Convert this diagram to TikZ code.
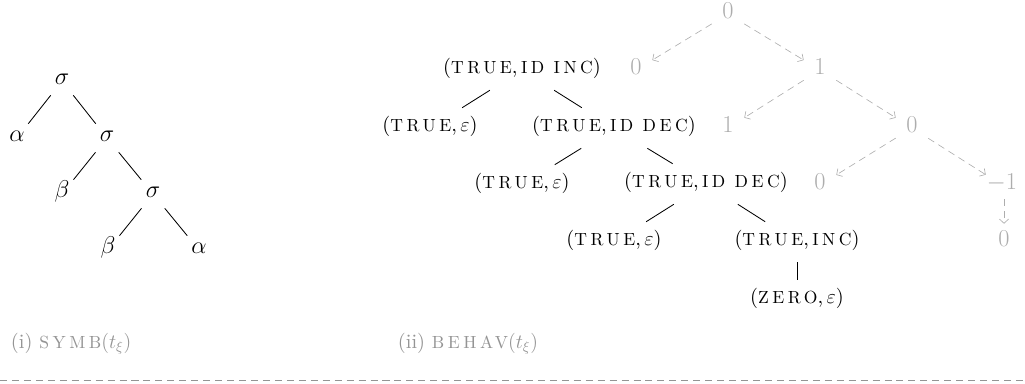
\documentclass[tikz,border=0pt]{standalone}
\usepackage{fontspec}
\usetikzlibrary{arrows.meta}
\setmainfont{lmroman10-regular.otf}[ItalicFont=lmroman10-italic.otf, BoldFont=lmroman10-bold.otf]
% letter-spaced capitals for the operation names
\newfontfamily\opfont{lmroman10-regular.otf}[LetterSpace=20]
\newcommand\op[1]{{\opfont\fontsize{12.5}{14}\selectfont #1}}
\definecolor{cntgrey}{gray}{0.68}
\definecolor{labgrey}{gray}{0.58}
\begin{document}
\begin{tikzpicture}[x=0.025cm,y=-0.025cm,
  every node/.style={font=\fontsize{14.5}{17}\selectfont},
  sym/.style={font=\fontsize{17.5}{20}\selectfont, minimum size=0.7cm, inner sep=0pt, text height=0.43em, text depth=0pt},
  pair/.style={minimum height=1cm, inner ysep=0pt, inner xsep=2pt, text height=0.75em, text depth=0.25em},
  cnt/.style={font=\fontsize{16}{19}\selectfont, text=cntgrey, minimum height=0.5cm, minimum width=0.8cm, inner sep=0pt, text height=0.65em, text depth=0pt},
  branch/.style={line width=0.6pt},
  flow/.style={draw=cntgrey, line width=0.45pt, dash pattern=on 5pt off 3.5pt, -{Straight Barb[length=3pt,width=6.5pt]}},
  caption/.style={anchor=base west, text=labgrey}]
\useasboundingbox (0,0) rectangle (1025,383);

% (i) the symbolic tree
\node[sym] (s1) at (62,81)  {$\sigma$};
\node[sym] (a1) at (17,138) {$\alpha$};
\node[sym] (s2) at (107,138) {$\sigma$};
\node[sym] (b1) at (62,194) {$\beta$};
\node[sym] (s3) at (153,194) {$\sigma$};
\node[sym] (b2) at (108,250) {$\beta$};
\node[sym] (a2) at (199,250) {$\alpha$};
\draw[branch] (s1) -- (a1);
\draw[branch] (s1) -- (s2);
\draw[branch] (s2) -- (b1);
\draw[branch] (s2) -- (s3);
\draw[branch] (s3) -- (b2);
\draw[branch] (s3) -- (a2);

% (ii) the behaviour tree
\node[pair] (p1) at (522,70)  {(\op{TRUE},\,\op{ID INC})};
\node[pair] (p2) at (430,128) {(\op{TRUE},\,$\varepsilon$)};
\node[pair] (p3) at (614,128) {(\op{TRUE},\,\op{ID DEC})};
\node[pair] (p4) at (522,185) {(\op{TRUE},\,$\varepsilon$)};
\node[pair] (p5) at (706,184) {(\op{TRUE},\,\op{ID DEC})};
\node[pair] (p6) at (614,242) {(\op{TRUE},\,$\varepsilon$)};
\node[pair] (p7) at (797,242) {(\op{TRUE},\,\op{INC})};
\node[pair] (p8) at (797,300) {(\op{ZERO},\,$\varepsilon$)};
\draw[branch] (p1) -- (p2);
\draw[branch] (p1) -- (p3);
\draw[branch] (p3) -- (p4);
\draw[branch] (p3) -- (p5);
\draw[branch] (p5) -- (p6);
\draw[branch] (p5) -- (p7);
\draw[branch] (p7) -- (p8);

% counter values
\node[cnt] (c0) at (728,14)  {$0$};
\node[cnt] (c1) at (636,70)  {$0$};
\node[cnt] (c2) at (820,70)  {$1$};
\node[cnt] (c3) at (728,128) {$1$};
\node[cnt] (c4) at (912,128) {$0$};
\node[cnt] (c5) at (820,185) {$0$};
\node[cnt] (c6) at (1002,185) {$-1$};
\node[cnt] (c7) at (1004,242) {$0$};
\draw[flow] (c0) -- (c1);
\draw[flow] (c0) -- (c2);
\draw[flow] (c2) -- (c3);
\draw[flow] (c2) -- (c4);
\draw[flow] (c4) -- (c5);
\draw[flow] (c4) -- (c6);
\draw[flow, shorten <=0.1cm, shorten >=0.2cm] (c6.south -| c7) -- (c7);

% sub-captions and separator
\node[caption] (cap1) at (6,348)   {(i) \op{SYMB}$(t_\xi)$};
\node[caption] (cap2) at (393,348) {(ii) \op{BEHAV}$(t_\xi)$};
\coordinate (sepL) at (0,380);
\coordinate (sepR) at (1025,380);
\draw[labgrey, line width=0.5pt, dash pattern=on 5pt off 3.5pt] (sepL) -- (sepR);
\end{tikzpicture}
\end{document}
